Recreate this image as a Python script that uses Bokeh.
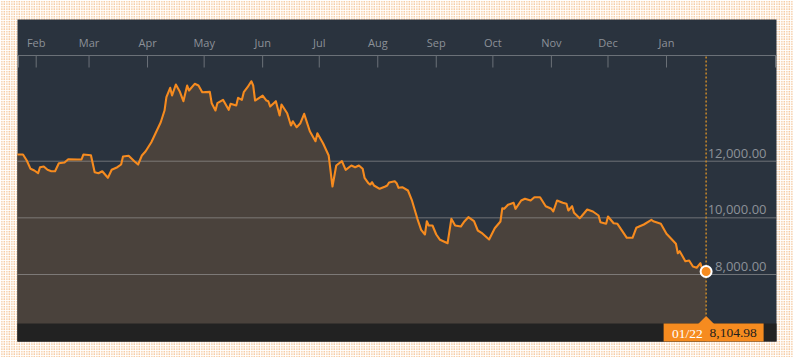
import numpy as np
import pandas as pd
from bokeh.plotting import figure
from bokeh.models import Range1d, ColumnDataSource
from bokeh.core.properties import value
from bokeh.embed import file_html
from bokeh.resources import INLINE

# ---------------- data ----------------
start_date = "2018-01-22"
day_offsets = [
    0, 3, 5, 7, 9, 11, 12, 14, 16, 18,
    20, 22, 25, 27, 32, 34, 35, 39, 41, 43,
    45, 48, 50, 53, 55, 56, 59, 62, 64, 66,
    68, 71, 76, 78, 79, 81, 82, 84, 86, 88,
    90, 91, 94, 96, 98, 102, 103, 105, 106, 109,
    112, 113, 116, 117, 119, 120, 122, 124, 125, 126,
    130, 132, 133, 134, 137, 139, 140, 143, 145, 146,
    148, 150, 152, 155, 158, 159, 162, 165, 167, 169,
    172, 174, 177, 179, 181, 183, 184, 186, 187, 188,
    189, 192, 195, 196, 197, 200, 201, 202, 204, 207,
    209, 212, 214, 216, 217, 218, 220, 222, 224, 228,
    230, 232, 235, 237, 239, 242, 244, 246, 250, 253,
    256, 257, 258, 260, 263, 264, 267, 269, 272, 274,
    277, 280, 283, 284, 286, 289, 291, 292, 294, 295,
    298, 299, 302, 305, 308, 309, 312, 313, 316, 318,
    323, 326, 328, 332, 336, 337, 341, 344, 349, 350,
    351, 354, 356, 358, 360, 362, 363, 365,
]
closes = [
    12236, 12236, 12024, 11731, 11671, 11576, 11788, 11812, 11696, 11646,
    11646, 11929, 11954, 12070, 12060, 12060, 12236, 12211, 11611, 11576,
    11646, 11414, 11696, 11788, 11883, 12165, 12190, 12000, 11883, 12201,
    12352, 12670, 13376, 13789, 14259, 14591, 14319, 14707, 14470, 14117,
    14672, 14495, 14732, 14672, 14435, 14449, 14047, 13789, 14047, 14167,
    13814, 14026, 13966, 14238, 14167, 14435, 14612, 14823, 14672, 14142,
    14319, 14142, 14117, 13930, 14117, 13613, 14001, 13694, 13260, 13411,
    13200, 13341, 13673, 13058, 12705, 12988, 12635, 12201, 11106, 11848,
    12000, 11696, 11848, 11788, 11848, 11731, 11414, 11223, 11177, 11258,
    11142, 11025, 11106, 11142, 11248, 11293, 11223, 11060, 11082, 10965,
    10637, 9966, 9578, 9412, 9881, 9730, 9730, 9412, 9225, 9105,
    9966, 9730, 9694, 9881, 10023, 9881, 9553, 9472, 9236, 9634,
    9871, 10340, 10319, 10460, 10531, 10319, 10612, 10672, 10612, 10729,
    10729, 10411, 10319, 10224, 10612, 10531, 10496, 10259, 10411, 10178,
    9987, 10058, 10295, 10224, 10083, 9846, 9790, 10047, 9811, 9790,
    9296, 9296, 9649, 9765, 9931, 9881, 9790, 9437, 9084, 8752,
    8822, 8469, 8494, 8282, 8237, 8399, 8166, 8104.98,
]
month_labels = ["Feb", "Mar", "Apr", "May", "Jun", "Jul",
                "Aug", "Sep", "Oct", "Nov", "Dec", "Jan"]
month_starts = ["2018-02-01", "2018-03-01", "2018-04-01", "2018-05-01",
                "2018-06-01", "2018-07-01", "2018-08-01", "2018-09-01",
                "2018-10-01", "2018-11-01", "2018-12-01", "2019-01-01"]
y_ticks = [8000, 10000, 12000]

# ---------------- layout calibration ----------------
W, H = 793, 357
DAY_MS = 86400000.0
PX_PER_DAY = 1.8871
PX_PER_UNIT = 0.028325


def to_ms(s):
    return pd.to_datetime(s).values.astype("datetime64[ms]").astype(np.float64)


feb1 = float(to_ms(["2018-02-01"])[0])
x_left = feb1 - 35.7 / PX_PER_DAY * DAY_MS
x_right = x_left + W / PX_PER_DAY * DAY_MS
y_top = 8000 + 274.0 / PX_PER_UNIT
y_bot = y_top - H / PX_PER_UNIT


def X(px):
    return x_left + px / PX_PER_DAY * DAY_MS


def Y(py):
    return y_top - py / PX_PER_UNIT


dates = pd.to_datetime(start_date) + pd.to_timedelta(day_offsets, unit="D")
dates_ms = dates.values.astype("datetime64[ms]").astype(np.float64)
month_ms = to_ms(month_starts)

last_x = float(dates_ms[-1])
last_y = float(closes[-1])
last_px = (last_x - x_left) / DAY_MS * PX_PER_DAY

# ---------------- colours ----------------
PANEL = "#2a333e"
AREA = "#4a423c"
ORANGE = "#f68b1f"
LABEL = "#8c9198"

p = figure(width=W, height=H, x_range=Range1d(x_left, x_right),
           y_range=Range1d(y_bot, y_top), min_border=0,
           toolbar_location=None, output_backend="svg",
           x_axis_location=None, y_axis_location=None,
           outline_line_color=None, background_fill_color="white",
           border_fill_color="white")
p.xgrid.visible = False
p.ygrid.visible = False

# dotted page background
p.quad(left=X(0), right=X(W), top=Y(0), bottom=Y(H), fill_color="white",
       line_color=None, hatch_pattern="dot", hatch_color="#ec9440",
       hatch_scale=2.5, hatch_weight=1.5)

# dark panel
p.quad(left=X(17), right=X(776), top=Y(19), bottom=Y(341),
       fill_color=PANEL, line_color=None)

# area under the line
p.varea(x=dates_ms, y1=Y(341), y2=closes, fill_color=AREA)

# horizontal gridlines
grid_src = ColumnDataSource(dict(y=y_ticks, x0=[X(17)] * len(y_ticks),
                                 x1=[X(776)] * len(y_ticks)))
p.segment(x0="x0", x1="x1", y0="y", y1="y", source=grid_src,
          line_color="#a8a8a8", line_alpha=0.55, line_width=1)

# price line
p.line(dates_ms, closes, line_color=ORANGE, line_width=2.1,
       line_join="round")

# bottom band
p.quad(left=X(17), right=X(776), top=Y(323), bottom=Y(341),
       fill_color="#222222", line_color=None)

# top axis line and ticks
p.segment(x0=[X(17)], x1=[X(776)], y0=[Y(55)], y1=[Y(55)],
          line_color="#6b7178", line_width=1)
tick_x = list(month_ms) + [X(18), X(775)]
p.segment(x0=tick_x, x1=tick_x, y0=[Y(55)] * len(tick_x),
          y1=[Y(67)] * len(tick_x), line_color="#6b7178", line_width=1)
p.text(x=month_ms, y=[Y(41.5)] * len(month_ms), text=month_labels,
       text_align="center", text_baseline="middle",
       text_font=value("Open Sans"), text_font_size="11px",
       text_color=LABEL)

# right value labels
p.text(x=[X(766)] * len(y_ticks), y=y_ticks,
       text=[f"{v:,.2f}" for v in y_ticks], text_align="right",
       text_baseline="alphabetic", y_offset=-8,
       text_font=value("Open Sans"), text_font_size="13px",
       text_color=LABEL)

# vertical dotted marker line
p.segment(x0=[last_x], x1=[last_x], y0=[Y(56)], y1=[Y(316)],
          line_color="#c98a2a", line_dash="2 2", line_width=1.5)

# last point
p.scatter(x=[last_x], y=[last_y], size=11, fill_color=ORANGE,
          line_color="white", line_width=2)

# bottom label box with pointer
p.quad(left=X(last_px - 42.5), right=X(last_px + 57.5), top=Y(323),
       bottom=Y(341), fill_color=ORANGE, line_color=None)
p.patch(x=[X(last_px - 8), X(last_px), X(last_px + 8)],
        y=[Y(323.5), Y(315.5), Y(323.5)], fill_color=ORANGE,
        line_color=None)
p.text(x=[X(last_px - 34)], y=[Y(332.5)], text=[dates[-1].strftime("%m/%d")],
       text_align="left", text_baseline="middle",
       text_font=value("Liberation Serif"), text_font_size="13.5px",
       text_color="white")
p.text(x=[X(last_px + 3.5)], y=[Y(332.5)], text=[f"{closes[-1]:,.2f}"],
       text_align="left", text_baseline="middle",
       text_font=value("Liberation Serif"), text_font_size="13.5px",
       text_color="#1e1e1e")

open("out.html", "w").write(file_html(p, INLINE))
